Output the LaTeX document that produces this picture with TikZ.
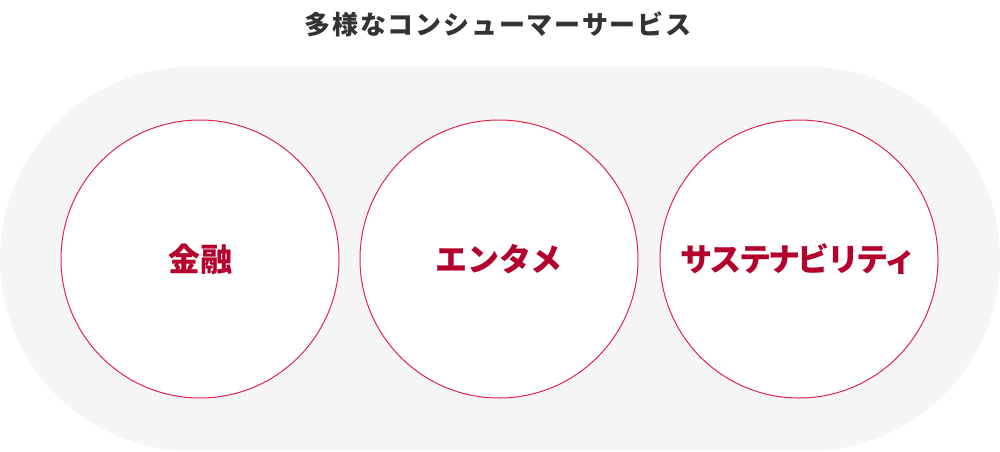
\documentclass[tikz,border=0pt]{standalone}
\usepackage{fontspec}
\newfontfamily\jp{Noto Sans CJK JP}
\newfontfamily\jpn{Noto Sans CJK JP}[LetterSpace=-8]
\newfontfamily\jpt{Noto Sans CJK JP}[LetterSpace=7]
\definecolor{bggray}{HTML}{F5F5F5}
\definecolor{ringred}{HTML}{E0254F}
\definecolor{textred}{HTML}{B4002D}
\definecolor{titlegray}{HTML}{333333}
\begin{document}
\begin{tikzpicture}[x=1pt,y=-1pt,
  ring/.style={circle,draw=ringred,line width=1pt,fill=white,minimum size=278pt,inner sep=0pt},
  label/.style={text=textred,font=\jp\bfseries\fontsize{32}{36}\selectfont},
  narrowlabel/.style={text=textred,font=\jpn\bfseries\fontsize{32}{36}\selectfont},
  titlestyle/.style={text=titlegray,font=\jpt\bfseries\fontsize{26}{30}\selectfont}]
\useasboundingbox (0,0) rectangle (1000,451);
\fill[bggray,rounded corners=192pt] (0,67) rectangle (1000,451);
\node[titlestyle] (title) at (498,24) {多様なコンシューマーサービス};
\node[ring] (c1) at (200,259) {};
\node[ring] (c2) at (499,259) {};
\node[ring] (c3) at (799,259) {};
\node[label] (t1) at (c1) {金融};
\node[label] (t2) at (c2) {エンタメ};
\node[narrowlabel] (t3) at (798.5,259) {サステナビリティ};
\end{tikzpicture}
\end{document}
